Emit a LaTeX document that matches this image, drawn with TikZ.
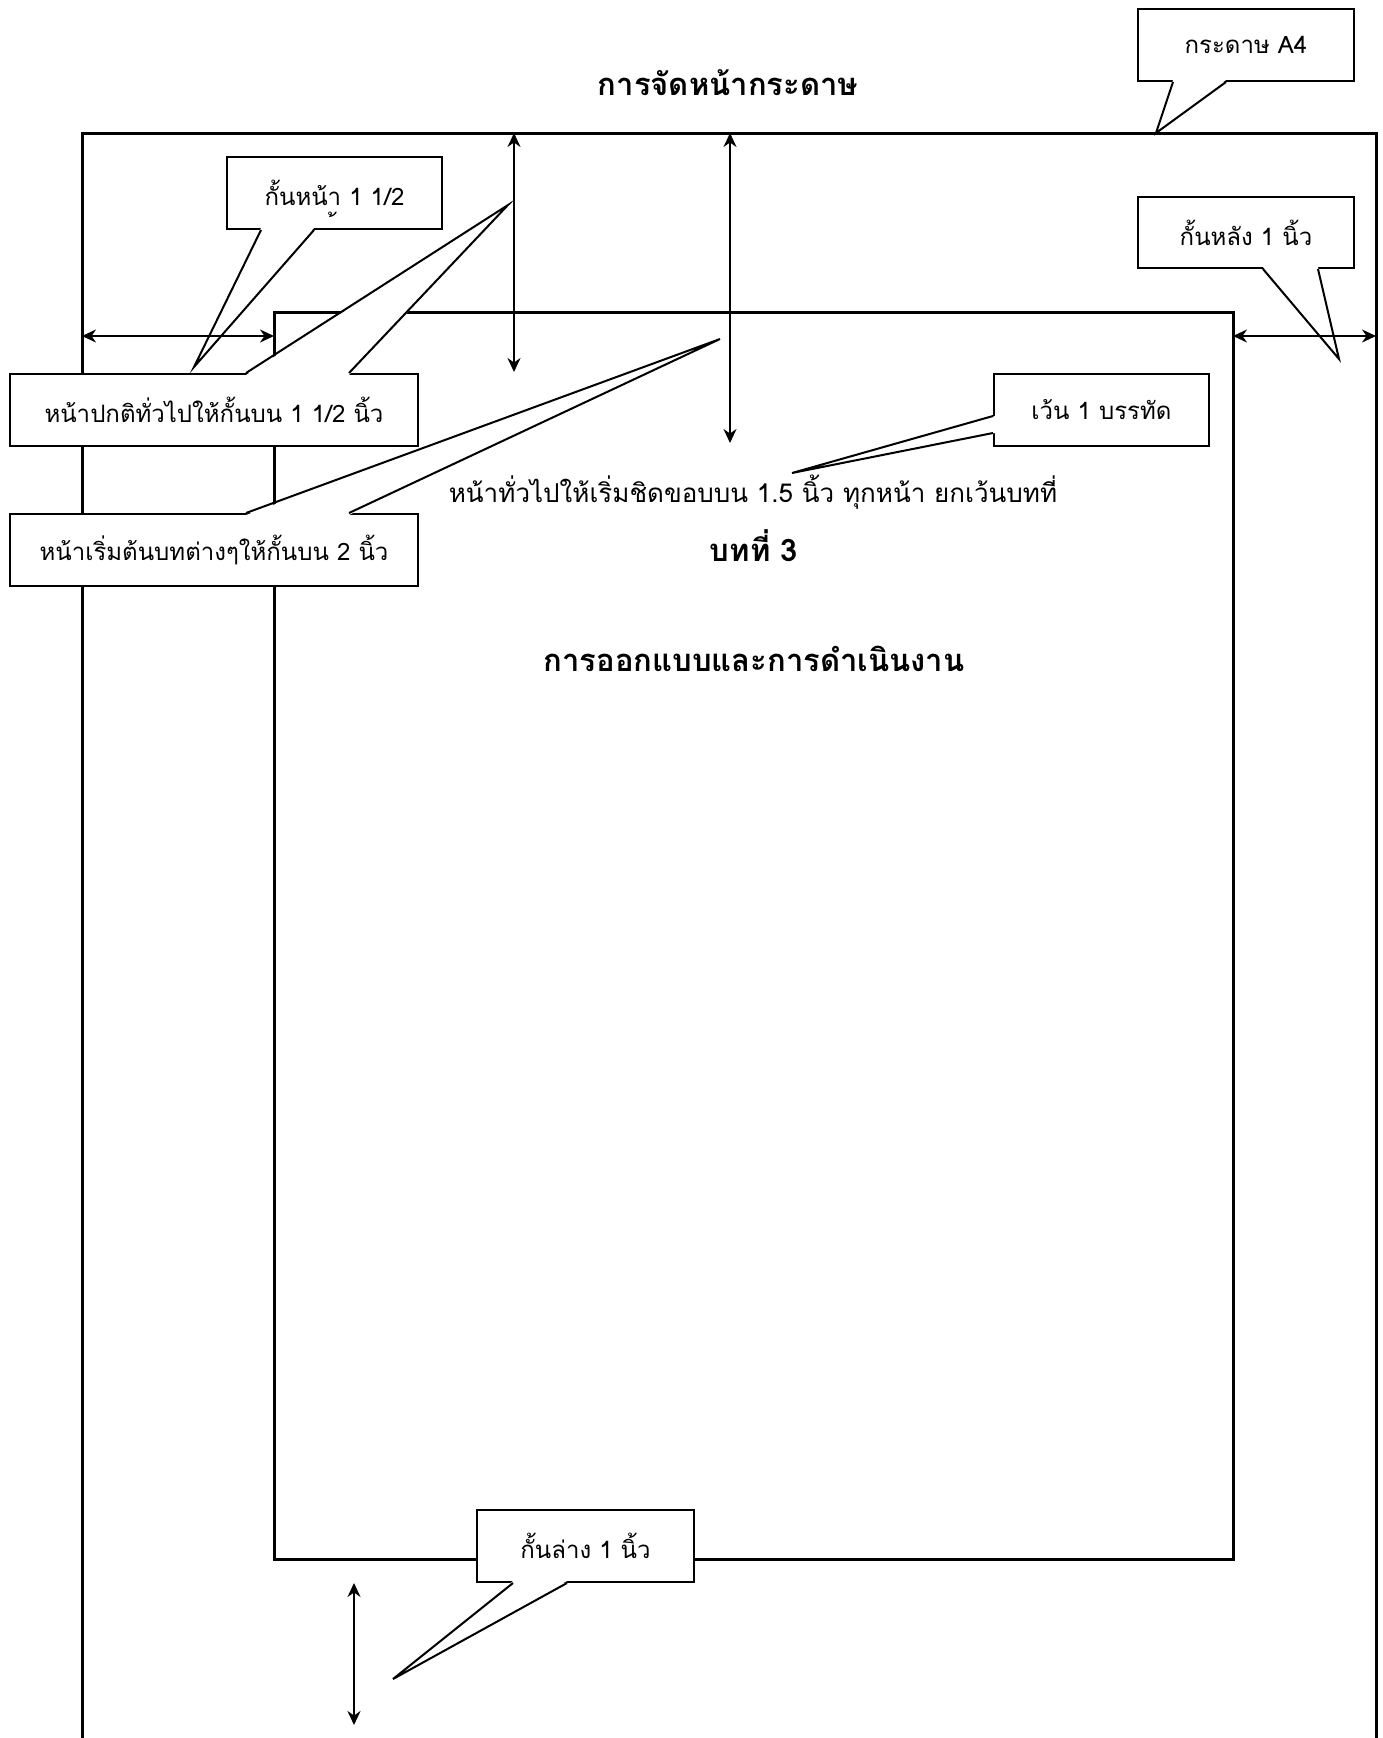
\documentclass[tikz,border=0pt]{standalone}
\usepackage{fontspec}
\setmainfont[Script=Thai]{Loma}
\usetikzlibrary{arrows.meta,positioning}

\tikzset{
  frame/.style={line width=3pt},
  note/.style={draw, fill=white, line width=2pt, minimum height=72pt, inner sep=0pt,
    font=\fontsize{24}{28}\selectfont},
  tail/.style={line width=2pt},
  span/.style={line width=2pt, {Stealth[length=14pt,width=13pt]}-{Stealth[length=14pt,width=13pt]}},
  body/.style={font=\fontsize{26}{30}\selectfont},
  head/.style={font=\fontsize{31}{36}\selectfont\bfseries},
}

\begin{document}
\begin{tikzpicture}[x=1pt,y=-1pt]
 \useasboundingbox (0,0) rectangle (1383,1738);
 % paper and text area
 \draw[frame] (82,1738) -- (82,133) -- (1376,133) -- (1376,1738);
 \draw[frame] (274,312) rectangle (1233,1559);

 % callouts
 \node[note, minimum width=216pt] (paper) at (1246,45) {กระดาษ A4};
 \coordinate (paper-tip) at (1156,133);
 \fill[white] ([xshift=36pt,yshift=2pt]paper.south west) -- (paper-tip) -- ([xshift=89pt,yshift=2pt]paper.south west) -- cycle;
 \draw[tail] ([xshift=36pt]paper.south west) -- (paper-tip) -- ([xshift=89pt]paper.south west);

 \node[note, minimum width=216pt, minimum height=71pt] (back) at (1246,232.5) {กั้นหลัง 1 นิ้ว};
 \coordinate (back-tip) at (1339,359);
 \fill[white] ([xshift=126pt,yshift=2pt]back.south west) -- (back-tip) -- ([xshift=181pt,yshift=2pt]back.south west) -- cycle;
 \draw[tail] ([xshift=126pt]back.south west) -- (back-tip) -- ([xshift=181pt]back.south west);

 \node[note, minimum width=215pt] (front) at (334.5,193) {กั้นหน้า 1 1/2};
 \node[note, draw=none, fill=none, minimum height=0pt] (front-mark) at (336,225) { ้};
 \coordinate (front-tip) at (194,367);
 \fill[white] ([xshift=35pt,yshift=2pt]front.south west) -- (front-tip) -- ([xshift=88pt,yshift=2pt]front.south west) -- cycle;
 \draw[tail] ([xshift=35pt]front.south west) -- (front-tip) -- ([xshift=88pt]front.south west);

 \node[note, minimum width=408pt] (normal) at (214,410) {หน้าปกติทั่วไปให้กั้นบน 1 1/2 นิ้ว};
 \coordinate (normal-tip) at (508,205);
 \fill[white] ([xshift=237pt,yshift=-2pt]normal.north west) -- (normal-tip) -- ([xshift=340pt,yshift=-2pt]normal.north west) -- cycle;
 \draw[tail] ([xshift=237pt]normal.north west) -- (normal-tip) -- ([xshift=340pt]normal.north west);

 \node[note, minimum width=408pt] (chapter) at (214,550) {หน้าเริ่มต้นบทต่างๆให้กั้นบน 2 นิ้ว};
 \coordinate (chapter-tip) at (720,339);
 \fill[white] ([xshift=237pt,yshift=-2pt]chapter.north west) -- (chapter-tip) -- ([xshift=340pt,yshift=-2pt]chapter.north west) -- cycle;
 \draw[tail] ([xshift=237pt]chapter.north west) -- (chapter-tip) -- ([xshift=340pt]chapter.north west);

 \node[note, minimum width=215pt] (blank) at (1101.5,410) {เว้น 1 บรรทัด};
 \coordinate (blank-tip) at (792,473);
 \fill[white] ([xshift=2pt,yshift=-43pt]blank.north west) -- (blank-tip) -- ([xshift=2pt,yshift=-60pt]blank.north west) -- cycle;
 \draw[tail] ([yshift=-43pt]blank.north west) -- (blank-tip) -- ([yshift=-60pt]blank.north west);

 \node[note, minimum width=217pt] (bottom) at (585.5,1546) {กั้นล่าง 1 นิ้ว};
 \coordinate (bottom-tip) at (393,1679);
 \fill[white] ([xshift=37pt,yshift=2pt]bottom.south west) -- (bottom-tip) -- ([xshift=91pt,yshift=2pt]bottom.south west) -- cycle;
 \draw[tail] ([xshift=37pt]bottom.south west) -- (bottom-tip) -- ([xshift=91pt]bottom.south west);

 % margins
 \coordinate (lm-a) at (82,336);   \coordinate (lm-b) at (274,336);
 \coordinate (rm-a) at (1233,336); \coordinate (rm-b) at (1376,336);
 \coordinate (tn-a) at (514,133);  \coordinate (tn-b) at (514,372);
 \coordinate (tc-a) at (730,133);  \coordinate (tc-b) at (730,443);
 \coordinate (bm-a) at (354,1583); \coordinate (bm-b) at (354,1725);
 \foreach \a/\b in {lm-a/lm-b,rm-a/rm-b,tn-a/tn-b,tc-a/tc-b,bm-a/bm-b}
   \draw[span] (\a) -- (\b);

 % page text
 \node[head] (title) at (728,83) {การจัดหน้ากระดาษ};
 \node[body] (rule) at (753,492) {หน้าทั่วไปให้เริ่มชิดขอบบน 1.5 นิ้ว ทุกหน้า ยกเว้นบทที่};
 \node[head] (chapno) at (754,546) {บทที่ 3};
 \node[head] (chapname) at (754,659) {การออกแบบและการดำเนินงาน};
\end{tikzpicture}
\end{document}
